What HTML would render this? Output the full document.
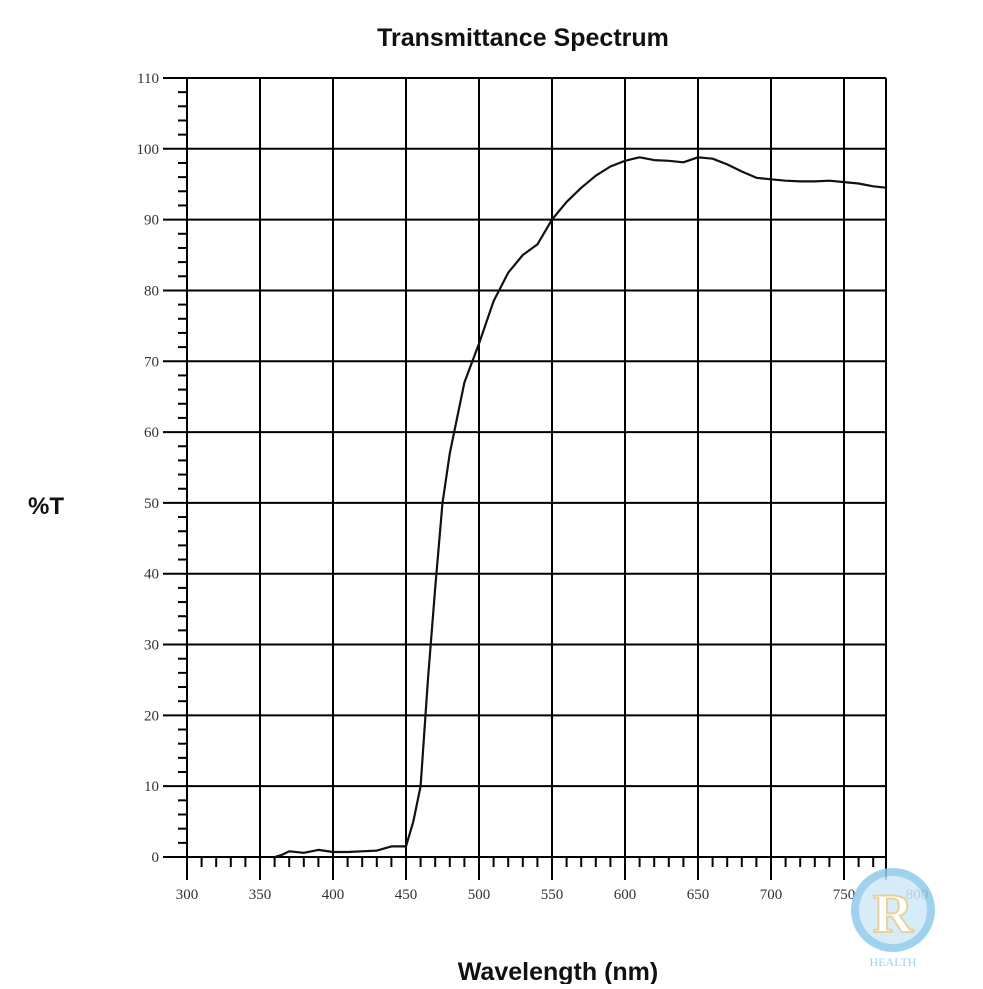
<!DOCTYPE html>
<html><head><meta charset="utf-8"><style>body{margin:0;background:#fff}</style></head><body>
<svg width="983" height="984" xmlns="http://www.w3.org/2000/svg">
<rect width="983" height="984" fill="#fff"/>
<text x="523" y="46" font-family="Liberation Sans, sans-serif" font-weight="bold" font-size="25" text-anchor="middle" fill="#111">Transmittance Spectrum</text>
<text x="46" y="514" font-family="Liberation Sans, sans-serif" font-weight="bold" font-size="24" text-anchor="middle" fill="#111">%T</text>
<text x="558" y="980" font-family="Liberation Sans, sans-serif" font-weight="bold" font-size="25" text-anchor="middle" fill="#111">Wavelength (nm)</text>
<g id="g" stroke="#000" stroke-width="2" fill="none"></g>
<g id="lbl" font-family="Liberation Serif, serif" font-size="15" fill="#333"></g>
<polyline id="curve" fill="none" stroke="#111" stroke-width="2.2" stroke-linejoin="round"/>
<g opacity="0.85">
<circle cx="893" cy="910" r="42" fill="#8fcbea"/>
<circle cx="893" cy="910" r="34" fill="#cfe9f7"/>
<text x="893" y="932" font-family="Liberation Serif, serif" font-weight="bold" font-size="56" text-anchor="middle" fill="#fff" stroke="#e6c98a" stroke-width="2">R</text>
<text x="893" y="966" font-family="Liberation Serif, serif" font-size="12" text-anchor="middle" fill="#8fcbea">HEALTH</text>
</g>
</svg>
<script>
var ns="http://www.w3.org/2000/svg",g=document.getElementById('g'),L=document.getElementById('lbl');
function X(n){return 187+(n-300)*1.46}function Y(v){return 857-v*7.082}
function ln(x1,y1,x2,y2,w){var l=document.createElementNS(ns,'line');l.setAttribute('x1',x1);l.setAttribute('y1',y1);l.setAttribute('x2',x2);l.setAttribute('y2',y2);if(w)l.setAttribute('stroke-width',w);g.appendChild(l)}
function tx(x,y,s,a){var t=document.createElementNS(ns,'text');t.setAttribute('x',x);t.setAttribute('y',y);t.setAttribute('text-anchor',a);t.textContent=s;L.appendChild(t)}
var xr=886;
for(var v=0;v<=110;v+=10){ln(163,Y(v),xr,Y(v));tx(159,Y(v)+5,v,'end')}
for(var v=0;v<110;v+=2){if(v%10)ln(178,Y(v),187,Y(v))}
for(var n=300;n<=750;n+=50){ln(X(n),78,X(n),880);}
ln(xr,78,xr,880);
for(var n=310;n<780;n+=10){if(n%50)ln(X(n),857,X(n),867)}
for(var n=300;n<=800;n+=50)tx(X(n),899,n,'middle');
var d=[[360,0],[365,0.3],[370,0.8],[380,0.6],[390,1.0],[400,0.7],[410,0.7],[420,0.8],[430,0.9],[440,1.5],[450,1.5],[455,5],[460,10],[465,25],[470,38],[475,50],[480,57],[490,67],[500,72.5],[510,78.5],[520,82.5],[530,85],[540,86.5],[550,90],[560,92.5],[570,94.5],[580,96.2],[590,97.5],[600,98.3],[610,98.8],[620,98.4],[630,98.3],[640,98.1],[650,98.8],[660,98.6],[670,97.8],[680,96.8],[690,95.9],[700,95.7],[710,95.5],[720,95.4],[730,95.4],[740,95.5],[750,95.3],[760,95.1],[770,94.7],[779.5,94.5]];
document.getElementById('curve').setAttribute('points',d.map(function(p){return X(p[0]).toFixed(1)+','+Y(p[1]).toFixed(1)}).join(' '));
</script>
</body></html>
